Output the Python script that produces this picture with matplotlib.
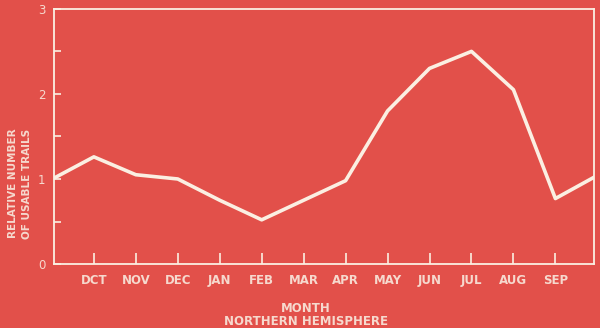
import matplotlib
matplotlib.use("Agg")
import matplotlib.pyplot as plt

# months of the northern hemisphere year, Oct -> Sep
months = ["DCT", "NOV", "DEC", "JAN", "FEB", "MAR", "APR", "MAY", "JUN", "JUL", "AUG", "SEP"]
month_pos = list(range(len(months)))

# relative number of usable trails (line continues past both ends of the axis)
trail_x = [-0.95] + month_pos + [11.92]
trail_y = [1.01, 1.26, 1.05, 1.00, 0.75, 0.52, 0.75, 0.98, 1.80, 2.30, 2.50, 2.05, 0.77, 1.02]

y_major = [0, 1, 2, 3]
y_minor = [0.5, 1.5, 2.5]

bg = "#E2504A"
ink = "#FBEFE2"
txt = "#F6D9CE"
font = ["Liberation Sans Narrow", "DejaVu Sans"]

fig = plt.figure(figsize=(6.0, 3.28), dpi=100, facecolor=bg)
ax = fig.add_axes([0.09, 0.195, 0.90, 0.778], facecolor=bg)

ax.plot(trail_x, trail_y, color=ink, lw=2.6, solid_joinstyle="round", clip_on=True)

ax.set_xlim(-0.95, 11.92)
ax.set_ylim(0, 3)

for s in ax.spines.values():
    s.set_color(ink)
    s.set_linewidth(1.3)

ax.set_xticks(month_pos)
ax.set_xticklabels(months, family=font, fontsize=8.5, color=txt, fontweight="semibold")
ax.set_yticks(y_major)
ax.set_yticklabels([str(v) for v in y_major], family=font, fontsize=8.5, color=txt)
ax.set_yticks(y_minor, minor=True)
ax.tick_params(axis="x", direction="in", length=8, width=1.2, color=ink, pad=7)
ax.tick_params(axis="y", which="both", direction="in", length=5, width=1.2, color=ink, pad=6)

fig.text(0.51, 0.04, "MONTH\nNORTHERN HEMISPHERE", ha="center", va="center",
         family=font, fontsize=8.5, color=txt, fontweight="semibold", linespacing=1.05)
fig.text(0.033, 0.44, "RELATIVE NUMBER\nOF USABLE TRAILS", ha="center", va="center",
         rotation=90, family=font, fontsize=7.5, color=txt, fontweight="semibold", linespacing=1.45)

fig.savefig("out.png", dpi=100, facecolor=bg)
